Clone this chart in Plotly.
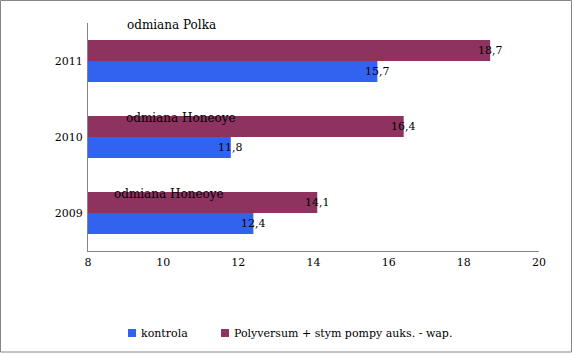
import plotly.graph_objects as go

years = ["2009", "2010", "2011"]
kontrola = [12.4, 11.8, 15.7]
polyversum = [14.1, 16.4, 18.7]
odmiana = ["odmiana Honeoye", "odmiana Honeoye", "odmiana Polka"]
odmiana_x = [10.16, 10.47, 10.21]
odmiana_shift = [19, 19, 36]
series_names = ["kontrola", "Polyversum + stym pompy auks. - wap."]
x_ticks = [8, 10, 12, 14, 16, 18, 20]

BLUE = "#3163F0"
MAROON = "#8E3360"
colors = [BLUE, MAROON]
FONT = "DejaVu Serif"

fig = go.Figure()
fig.add_trace(go.Bar(y=years, x=kontrola, orientation="h", name=series_names[0],
                     marker=dict(color=BLUE, line=dict(width=0)), showlegend=False))
fig.add_trace(go.Bar(y=years, x=polyversum, orientation="h", name=series_names[1],
                     marker=dict(color=MAROON, line=dict(width=0)), showlegend=False))

ann = []
for i, v in enumerate(kontrola):
    ann.append(dict(x=v, y=i, yshift=-10.5, text=str(v).replace(".", ","), showarrow=False,
                    xanchor="center", yanchor="middle", font=dict(family=FONT, size=11, color="black")))
for i, v in enumerate(polyversum):
    ann.append(dict(x=v, y=i, yshift=10.5, text=str(v).replace(".", ","), showarrow=False,
                    xanchor="center", yanchor="middle", font=dict(family=FONT, size=11, color="black")))
for i, (t, xx, s) in enumerate(zip(odmiana, odmiana_x, odmiana_shift)):
    ann.append(dict(x=xx, y=i, yshift=s, text=t, showarrow=False,
                    xanchor="center", yanchor="middle", font=dict(family=FONT, size=12, color="black")))

W, H = 572, 354
L, R, T, B = 88, 33, 23, 103
pw, ph = W - L - R, H - T - B

def px(x):
    return (x - L) / pw

def py(y):
    return (H - B - y) / ph

# manual legend
shapes = [dict(type="rect", xref="paper", yref="paper",
               x0=px(0.5), x1=px(571.5), y0=py(352), y1=py(0.5),
               line=dict(color="#868686", width=1), fillcolor="rgba(0,0,0,0)", layer="above")]
leg_sq_x = [128, 221]
for name, c, sx in zip(series_names, colors, leg_sq_x):
    shapes.append(dict(type="rect", xref="paper", yref="paper",
                       x0=px(sx), x1=px(sx + 8), y0=py(337), y1=py(329),
                       line=dict(width=0), fillcolor=c))
    ann.append(dict(xref="paper", yref="paper", x=px(sx + 11), y=py(333), text=name,
                    showarrow=False, xanchor="left", yanchor="middle",
                    font=dict(family=FONT, size=11, color="black")))

fig.update_layout(
    width=W, height=H,
    margin=dict(l=L, r=R, t=T, b=B),
    paper_bgcolor="white", plot_bgcolor="white",
    barmode="group", bargap=0.45, bargroupgap=0,
    font=dict(family=FONT, size=11, color="black"),
    showlegend=False,
    xaxis=dict(range=[8, 20], autorange=False, tickvals=x_ticks, showgrid=False, zeroline=False,
               showline=True, linecolor="#868686", linewidth=1, ticks="", ticklabelstandoff=1,
               tickfont=dict(family=FONT, size=11)),
    yaxis=dict(type="category", categoryorder="array", categoryarray=years,
               range=[-0.5, 2.5], autorange=False,
               showgrid=False, zeroline=False, showline=True, linecolor="#868686",
               linewidth=1, ticks="", ticklabelstandoff=2, tickfont=dict(family=FONT, size=11)),
    annotations=ann,
    shapes=shapes,
)

fig.write_html("out.html")
